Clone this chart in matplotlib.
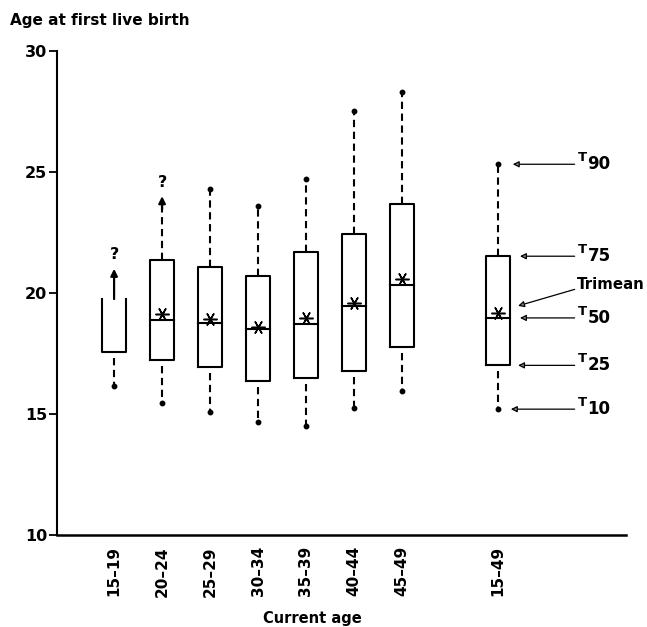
import matplotlib.pyplot as plt
import numpy as np

plt.rcParams['font.family'] = ['DejaVu Sans']
plt.rcParams['font.weight'] = 'bold'

# percentile summaries of age at first live birth, by current age group
groups = ["15–19", "20–24", "25–29", "30–34", "35–39", "40–44", "45–49", "15–49"]
positions = [1, 2, 3, 4, 5, 6, 7, 9]
t10 = [16.17, 15.47, 15.08, 14.68, 14.51, 15.25, 15.97, 15.20]
t25 = [17.55, 17.22, 16.94, 16.35, 16.47, 16.76, 17.77, 17.01]
t50 = [None, 18.87, 18.74, 18.52, 18.72, 19.45, 20.31, 18.97]
t75 = [None, 21.36, 21.07, 20.72, 21.71, 22.42, 23.69, 21.52]
t90 = [None, None, 24.31, 23.60, 24.70, 27.53, 28.29, 25.32]

# youngest group: upper quartiles not reached yet
open_top = 19.75
arrow_young = (19.75, 21.0)   # 15-19 arrow base / tip
arrow_2024 = (23.75, 24.0)    # 20-24 arrow base / tip

fig = plt.figure(figsize=(6.47, 6.27), dpi=100)
ax = fig.add_axes([57 / 647, 1 - 535 / 627, (626 - 57) / 647, (535 - 51) / 627])

half = 0.25
lw = 1.5
dash = (0, (3.5, 2.2))

for i, (x, lo, q1, med, q3, hi) in enumerate(zip(positions, t10, t25, t50, t75, t90)):
    if q3 is None:
        # open-topped box for 15-19
        ax.plot([x - half, x - half, x + half, x + half],
                [open_top, q1, q1, open_top], color='black', lw=lw)
    else:
        ax.plot([x - half, x + half, x + half, x - half, x - half],
                [q1, q1, q3, q3, q1], color='black', lw=lw)
        ax.plot([x - half, x + half], [med, med], color='black', lw=lw)
        trimean = (q1 + 2 * med + q3) / 4
        ax.plot(x, trimean + 0.05, marker=(6, 2, 30), ms=10, mew=1.1, color='black')

    # lower whisker down to T10
    ax.plot([x, x], [q1 - 0.25, lo], color='black', lw=lw, linestyle=dash)
    ax.plot(x, lo, 'o', ms=3.2, color='black')

    # upper whisker up to T90
    if hi is not None:
        ax.plot([x, x], [q3, hi], color='black', lw=lw, linestyle=dash)
        ax.plot(x, hi, 'o', ms=3.2, color='black')

# open-ended upper tails marked with "?"
ax.annotate('', xy=(1, arrow_young[1]), xytext=(1, arrow_young[0]),
            arrowprops=dict(arrowstyle='-|>', color='black', lw=1.6,
                            mutation_scale=10, shrinkA=0, shrinkB=0))
ax.text(1, arrow_young[1] + 0.6, '?', ha='center', va='center', fontsize=11.5)
ax.plot([2, 2], [t75[1], arrow_2024[0]], color='black', lw=lw, linestyle=dash)
ax.annotate('', xy=(2, arrow_2024[1]), xytext=(2, arrow_2024[0] - 0.3),
            arrowprops=dict(arrowstyle='-|>', color='black', lw=1.6,
                            mutation_scale=10, shrinkA=0, shrinkB=0))
ax.text(2, arrow_2024[1] + 0.55, '?', ha='center', va='center', fontsize=11.5)

# key for the summary box
label_x = 10.6
keys = [("90", t90[-1], 9.31), ("75", t75[-1], 9.46), ("50", t50[-1], 9.46),
        ("25", t25[-1], 9.42), ("10", t10[-1], 9.27)]
arrow_kw = dict(arrowstyle='-|>', color='black', lw=0.9, mutation_scale=9,
                shrinkA=0, shrinkB=0, fc='#888888')
for sub, yv, tip in keys:
    ax.annotate('', xy=(tip, yv), xytext=(label_x, yv), arrowprops=arrow_kw)
    ax.text(label_x + 0.06, yv + 0.13, 'T', ha='left', va='baseline', fontsize=9.5)
    ax.text(label_x + 0.27, yv, sub, ha='left', va='center', fontsize=12)

trimean_all = (t25[-1] + 2 * t50[-1] + t75[-1]) / 4
ax.annotate('', xy=(9.42, trimean_all + 0.35), xytext=(label_x, 20.15), arrowprops=arrow_kw)
ax.text(label_x + 0.04, 20.35, 'Trimean', ha='left', va='center', fontsize=10.8)

ax.set_xlim(-0.19, 11.67)
ax.set_ylim(10, 30)
ax.set_xticks(positions)
ax.set_xticklabels(groups, rotation=90, fontsize=11)
ax.set_yticks([10, 15, 20, 25, 30])
ax.tick_params(axis='x', length=0, pad=8)
ax.tick_params(axis='y', length=6, width=1.3, pad=1, labelsize=11.5)
for s in ['top', 'right']:
    ax.spines[s].set_visible(False)
ax.spines['left'].set_linewidth(1.5)
ax.spines['bottom'].set_linewidth(1.8)

fig.text(10 / 647, 1 - 21 / 627, 'Age at first live birth', ha='left', va='center', fontsize=11)
fig.text(312 / 647, 1 - 619 / 627, 'Current age', ha='center', va='center', fontsize=10.5)

fig.savefig('out.png', dpi=100)
